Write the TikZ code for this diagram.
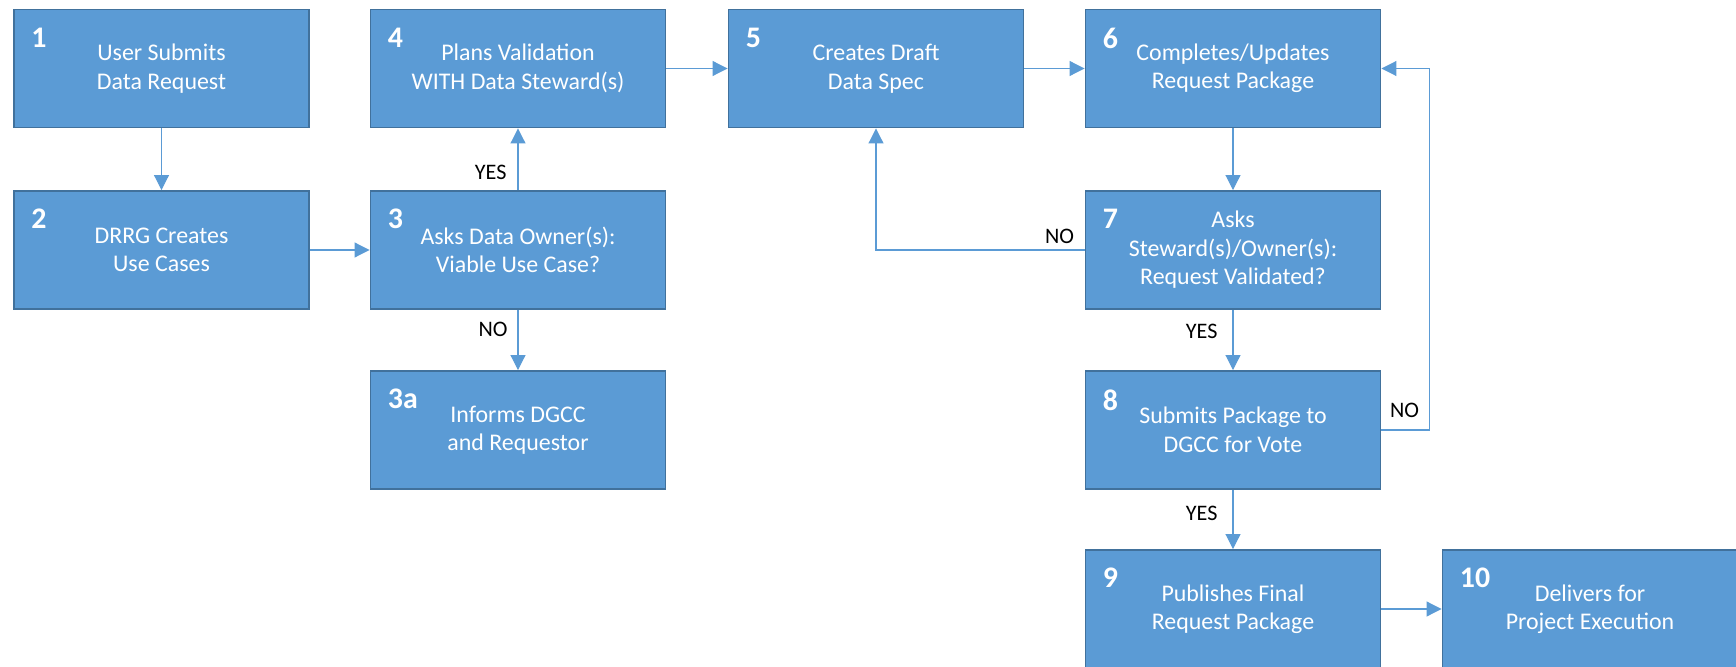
\documentclass[tikz,border=0pt]{standalone}
\usepackage{fontspec}
\setmainfont{Carlito}
\usetikzlibrary{arrows.meta}
\definecolor{boxfill}{HTML}{5B9BD5}
\definecolor{boxline}{HTML}{41719C}

\begin{document}
\begin{tikzpicture}[
    every node/.style={font=\fontsize{13.6}{16.2}\selectfont},
    stepbox/.style={
        draw=boxline,
        line width=1.1pt,
        fill=boxfill,
        text=white,
        minimum width=5.9cm,
        minimum height=2.36cm,
        align=center
    },
    num/.style={
        anchor=north west,
        inner sep=0pt,
        xshift=0.36cm,
        yshift=-0.38cm,
        text=white,
        font=\fontsize{17}{20}\selectfont\bfseries
    },
    answer/.style={inner sep=0pt, text=black, font=\fontsize{12.6}{15}\selectfont},
    arrow/.style={-{Triangle[length=0.3cm,width=0.3cm]}, draw=boxfill, line width=0.6pt}
]
\useasboundingbox (0,0) rectangle (34.72,-13.34);

% Request intake
\node[stepbox, label={[num, name=n1]north west:1}] (s1) at (3.23,-1.37) {User Submits\\Data Request};
\node[stepbox, label={[num, name=n2]north west:2}] (s2) at (3.23,-5.0) {DRRG Creates\\Use Cases};

% Owner check
\node[stepbox, label={[num, name=n4]north west:4}] (s4) at (10.36,-1.37) {Plans Validation\\WITH Data Steward(s)};
\node[stepbox, label={[num, name=n3]north west:3}] (s3) at (10.36,-5.0) {Asks Data Owner(s):\\Viable Use Case?};
\node[stepbox, label={[num, name=n3a]north west:3a}] (s3a) at (10.36,-8.6) {Informs DGCC\\and Requestor};

% Spec and package
\node[stepbox, label={[num, name=n5]north west:5}] (s5) at (17.52,-1.37) {Creates Draft\\Data Spec};
\node[stepbox, label={[num, name=n6]north west:6}] (s6) at (24.66,-1.37) {Completes/Updates\\Request Package};
\node[stepbox, label={[num, name=n7]north west:7}] (s7) at (24.66,-5.0) {Asks\\Steward(s)/Owner(s):\\Request Validated?};
\node[stepbox, label={[num, name=n8]north west:8}] (s8) at (24.66,-8.6) {Submits Package to\\DGCC for Vote};
\node[stepbox, label={[num, name=n9]north west:9}] (s9) at (24.66,-12.18) {Publishes Final\\Request Package};
\node[stepbox, label={[num, name=n10]north west:10}] (s10) at (31.8,-12.18) {Delivers for\\Project Execution};

% Arrows
\draw[arrow] (s1) -- (s2);
\draw[arrow] (s2) -- (s3);
\draw[arrow] (s3.north) node[answer, anchor=south east, xshift=-0.22cm, yshift=0.2cm] {YES} -- (s4.south);
\draw[arrow] (s3.south) node[answer, anchor=north east, xshift=-0.2cm, yshift=-0.24cm] {NO} -- (s3a.north);
\draw[arrow] (s4) -- (s5);
\draw[arrow] (s5) -- (s6);
\draw[arrow] (s6) -- (s7);
\draw[arrow] (s7.west) node[answer, anchor=south east, xshift=-0.2cm, yshift=0.12cm] {NO} -| (s5.south);
\draw[arrow] (s7.south) node[answer, anchor=north east, xshift=-0.3cm, yshift=-0.28cm] {YES} -- (s8.north);
\draw[arrow] (s8.east) node[answer, anchor=south west, xshift=0.16cm, yshift=0.24cm] {NO} -- ++(0.96,0) |- (s6.east);
\draw[arrow] (s8.south) node[answer, anchor=north east, xshift=-0.3cm, yshift=-0.32cm] {YES} -- (s9.north);
\draw[arrow] (s9) -- (s10);

\end{tikzpicture}
\end{document}
